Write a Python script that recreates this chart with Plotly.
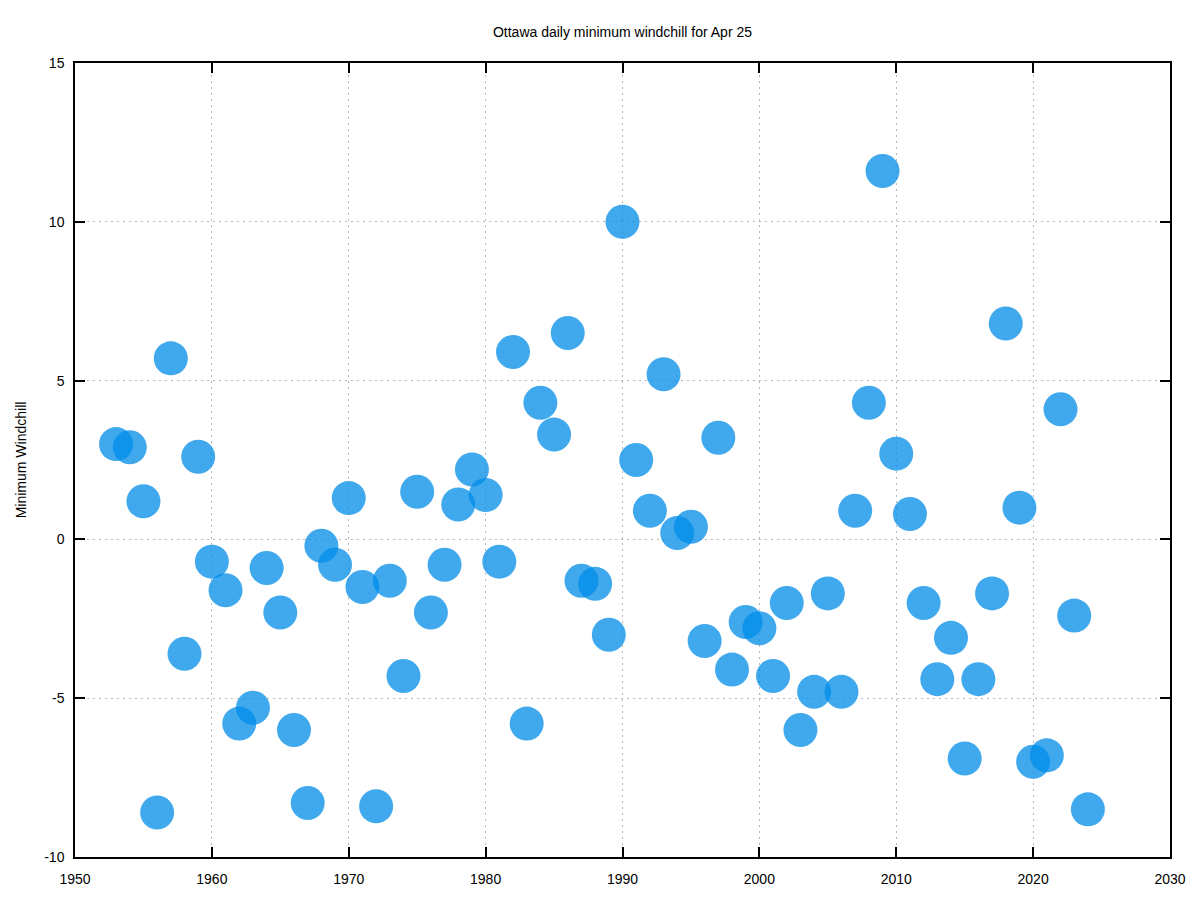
import plotly.graph_objects as go

years = list(range(1953, 2025))
windchill = [3.0, 2.9, 1.2, -8.6, 5.7, -3.6, 2.6, -0.7, -1.6, -5.8,
             -5.3, -0.9, -2.3, -6.0, -8.3, -0.2, -0.8, 1.3, -1.5, -8.4,
             -1.3, -4.3, 1.5, -2.3, -0.8, 1.1, 2.2, 1.4, -0.7, 5.9,
             -5.8, 4.3, 3.3, 6.5, -1.3, -1.4, -3.0, 10.0, 2.5, 0.9,
             5.2, 0.2, 0.4, -3.2, 3.2, -4.1, -2.6, -2.8, -4.3, -2.0,
             -6.0, -4.8, -1.7, -4.8, 0.9, 4.3, 11.6, 2.7, 0.8, -2.0,
             -4.4, -3.1, -6.9, -4.4, -1.7, 6.8, 1.0, -7.0, -6.8, 4.1,
             -2.4, -8.5]

x_ticks = [1950, 1960, 1970, 1980, 1990, 2000, 2010, 2020, 2030]
y_ticks = [-10, -5, 0, 5, 10, 15]
y_tick_labels = ["-10", "-5", "0", "5", "10", "15"]

fig = go.Figure()
fig.add_trace(go.Scatter(
    x=years, y=windchill, mode="markers",
    marker=dict(size=34, color="rgb(0,140,232)", opacity=0.75, line=dict(width=0)),
    showlegend=False, hoverinfo="x+y",
))

font = dict(family="Liberation Sans, Arial, sans-serif", size=14, color="black")
axis_common = dict(
    showline=True, linecolor="black", linewidth=1.5, mirror="ticks",
    ticks="inside", ticklen=10, tickwidth=1.5, tickcolor="black",
    showgrid=True, gridcolor="rgb(185,185,185)", griddash="2px,4px", gridwidth=1,
    zeroline=False, tickfont=font,
)
fig.update_layout(
    width=1200, height=900,
    margin=dict(l=75, r=30, t=63, b=43),
    paper_bgcolor="white", plot_bgcolor="white",
    font=font,
    title=dict(text="Ottawa daily minimum windchill for Apr 25", xref="paper", x=0.5,
               xanchor="center", y=1 - 32 / 900, yanchor="middle",
               font=dict(size=14, family=font["family"])),
    xaxis=dict(range=[1950, 2030], tickvals=x_ticks, ticklabelstandoff=8, **axis_common),
    yaxis=dict(range=[-10, 15], tickvals=y_ticks, ticktext=y_tick_labels, ticklabelstandoff=6,
               title=dict(text="Minimum Windchill", standoff=14, font=font), **axis_common),
)
fig.write_html("out.html")
